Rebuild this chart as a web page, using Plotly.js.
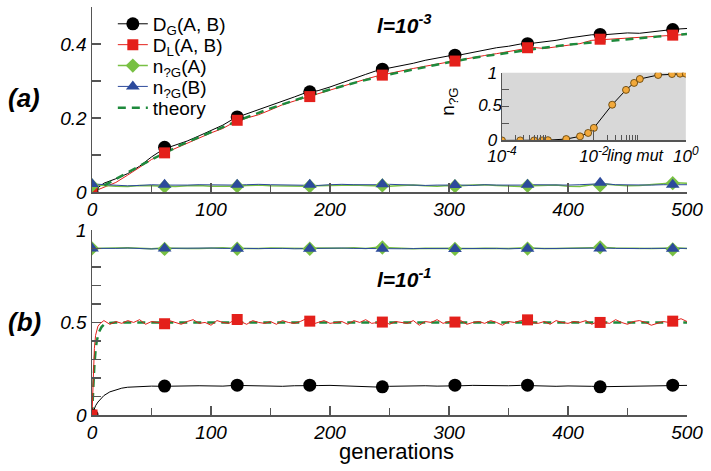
<!DOCTYPE html>
<html><head><meta charset="utf-8">
<script src="https://cdn.plot.ly/plotly-3.0.1.min.js"></script>
<style>html,body{margin:0;padding:0;background:#fff}</style>
</head><body><div id="chart" style="width:711px;height:471px"></div>
<script>
// ---------- Panel (a): l = 1e-3 ----------
const genA = [0,10,20,30,40,50,60,70,80,90,100,110,120,130,140,150,160,170,180,190,200,210,220,230,240,250,260,270,280,290,300,310,320,330,340,350,360,370,380,390,400,410,420,430,440,450,460,470,480,490,500];
const DG_a = [0,0.024,0.036,0.05,0.07,0.095,0.116,0.126,0.138,0.152,0.166,0.181,0.2,0.211,0.222,0.234,0.246,0.257,0.269,0.274,0.284,0.296,0.306,0.318,0.329,0.335,0.342,0.348,0.356,0.362,0.368,0.371,0.378,0.385,0.39,0.394,0.4,0.402,0.405,0.41,0.416,0.421,0.425,0.425,0.428,0.43,0.429,0.433,0.437,0.44,0.442];
const DL_a = [0,0.012,0.026,0.046,0.066,0.088,0.104,0.118,0.133,0.147,0.16,0.172,0.19,0.2,0.209,0.222,0.236,0.246,0.256,0.266,0.276,0.286,0.296,0.305,0.314,0.321,0.329,0.334,0.34,0.346,0.352,0.356,0.363,0.369,0.374,0.379,0.386,0.391,0.388,0.392,0.396,0.401,0.41,0.412,0.413,0.416,0.418,0.42,0.421,0.424,0.426];
const nA_a = [0.02,0.017,0.016,0.015,0.018,0.017,0.016,0.015,0.017,0.018,0.016,0.015,0.016,0.018,0.019,0.017,0.016,0.015,0.016,0.017,0.018,0.02,0.019,0.018,0.017,0.016,0.018,0.019,0.017,0.016,0.018,0.017,0.019,0.02,0.018,0.016,0.015,0.017,0.018,0.019,0.016,0.015,0.02,0.022,0.019,0.017,0.018,0.02,0.022,0.025,0.024];
const nB_a = [0.022,0.02,0.018,0.017,0.018,0.02,0.019,0.018,0.019,0.02,0.019,0.018,0.019,0.02,0.021,0.02,0.019,0.02,0.019,0.018,0.02,0.021,0.02,0.019,0.02,0.021,0.02,0.019,0.018,0.019,0.02,0.019,0.018,0.02,0.019,0.018,0.019,0.02,0.019,0.018,0.019,0.02,0.021,0.023,0.02,0.019,0.018,0.019,0.02,0.02,0.02];
const genTh_a = [0,25,50,75,100,125,150,175,200,225,250,275,300,325,350,375,400,425,450,475,500];
const theory_a = [0,0.045,0.088,0.128,0.163,0.196,0.226,0.253,0.277,0.299,0.318,0.335,0.351,0.365,0.377,0.388,0.398,0.406,0.413,0.42,0.427];
const genMark = [0,61,122,183,244,305,366,427,488];
const DG_a_m = [0,0.121,0.203,0.271,0.332,0.37,0.401,0.426,0.439];
const DL_a_m = [0,0.106,0.194,0.258,0.316,0.354,0.39,0.413,0.424];
const nA_a_m = [0.018,0.015,0.016,0.016,0.018,0.016,0.017,0.018,0.024];
const nB_a_m = [0.022,0.02,0.02,0.02,0.021,0.019,0.02,0.025,0.02];

// ---------- Panel (b): l = 1e-1 ----------
const genRed_b = [0,1,2,3,4,5,7,10,15,20,25,30,35,40,45,50,55,60,65,70,75,80,85,90,95,100,105,110,115,120,125,130,135,140,145,150,155,160,165,170,175,180,185,190,195,200,205,210,215,220,225,230,235,240,245,250,255,260,265,270,275,280,285,290,295,300,305,310,315,320,325,330,335,340,345,350,355,360,365,370,375,380,385,390,395,400,405,410,415,420,425,430,435,440,445,450,455,460,465,470,475,480,485,490,495,500];
const DL_b = [0,0.22,0.36,0.43,0.465,0.48,0.495,
 0.51,0.49,0.505,0.495,0.51,0.5,0.515,0.49,0.505,0.5,
 0.495,0.51,0.5,0.49,0.505,0.515,0.495,0.5,0.485,0.51,
 0.5,0.495,0.515,0.505,0.49,0.51,0.5,0.495,0.505,0.49,
 0.51,0.5,0.495,0.505,0.52,0.49,0.5,0.51,0.495,0.5,
 0.505,0.49,0.51,0.5,0.515,0.495,0.5,0.51,0.49,0.505,
 0.5,0.495,0.51,0.485,0.505,0.5,0.515,0.495,0.505,0.5,
 0.51,0.49,0.5,0.505,0.495,0.51,0.5,0.485,0.505,0.5,
 0.51,0.515,0.5,0.495,0.505,0.49,0.51,0.5,0.495,0.505,
 0.5,0.51,0.49,0.505,0.5,0.495,0.515,0.5,0.49,0.505,
 0.51,0.5,0.485,0.495,0.505,0.5,0.51,0.52,0.505];
const genTh_b = [0,1,2,3,4,6,8,10,15,20,500];
const theory_b = [0,0.15,0.27,0.35,0.4,0.45,0.475,0.488,0.497,0.5,0.5];
const genBlack_b = [0,1,2,3,5,7,10,15,20,25,30,40,50,60,70,80,90,100,110,120,130,140,150,160,170,180,190,200,210,220,230,240,250,260,270,280,290,300,310,320,330,340,350,360,370,380,390,400,410,420,430,440,450,460,470,480,490,500];
const DG_b = [0,0.02,0.035,0.05,0.07,0.085,0.105,0.125,0.135,0.145,
 0.15,0.155,0.156,0.155,0.157,0.156,0.158,0.157,0.156,0.16,
 0.159,0.157,0.156,0.155,0.158,0.157,0.159,0.16,0.157,0.156,
 0.154,0.151,0.155,0.157,0.156,0.158,0.156,0.155,0.158,0.16,
 0.159,0.157,0.158,0.16,0.158,0.156,0.155,0.157,0.154,0.155,
 0.153,0.154,0.156,0.157,0.156,0.158,0.159,0.16];
const nB_b = [0.9,0.898,0.9,0.902,0.899,0.897,0.9,0.901,0.899,0.9,0.902,0.9,0.898,0.9,0.899,0.901,0.9,0.898,0.9,0.899,0.9,0.902,0.9,0.899,0.901,0.9,0.898,0.899,0.9,0.901,0.9,0.899,0.9,0.902,0.9,0.898,0.9,0.901,0.899,0.9,0.901,0.899,0.9,0.902,0.9,0.898,0.899,0.9,0.901,0.9,0.9];
const nA_b = [0.9,0.899,0.902,0.904,0.9,0.898,0.902,0.903,0.9,0.899,0.901,0.903,0.899,0.898,0.9,0.902,0.901,0.899,0.9,0.902,0.9,0.901,0.903,0.9,0.906,0.904,0.899,0.898,0.901,0.9,0.899,0.902,0.9,0.901,0.899,0.9,0.902,0.903,0.9,0.899,0.901,0.904,0.906,0.905,0.902,0.9,0.897,0.899,0.901,0.903,0.9];
const DG_b_m = [0,0.156,0.161,0.161,0.152,0.161,0.161,0.152,0.161];
const DL_b_m = [0,0.493,0.516,0.507,0.502,0.502,0.514,0.5,0.507];
const nA_b_m = [0.9,0.897,0.898,0.898,0.905,0.897,0.899,0.906,0.895];
const nB_b_m = [0.9,0.9,0.898,0.898,0.898,0.897,0.898,0.899,0.898];

// ---------- Inset ----------
const lingMut = [1e-4,2.5e-4,5e-4,7.5e-4,1e-3,2.5e-3,5e-3,7.5e-3,1e-2,2.5e-2,5e-2,7.5e-2,0.1,0.25,0.5,0.75,1];
const nG_inset = [0,0,0,0,0.004,0.02,0.06,0.11,0.185,0.527,0.746,0.849,0.907,0.966,0.98,0.985,0.985];

// ---------- tick labels ----------
const xTicks = [0,100,200,300,400,500];
const xTickText = ['0','100','200','300','400','500'];
const yTicksA = [0,0.2,0.4];
const yTickTextA = ['0','0.2','0.4'];
const yTicksB = [0,0.5,1];
const yTickTextB = ['0','0.5','1'];
const insetXTicks = [1e-4,1e-2,1];
const insetXText = ['10<sup>-4</sup>','10<sup>-2</sup>','10<sup>0</sup>'];
const insetYTicks = [0,0.5,1];
const insetYText = ['0','','1'];       // middle label drawn as a text trace (below)
const insetMidTick = [0.5];
const insetMidText = ['0.5'];
const names = ['D<sub>G</sub>(A, B)','D<sub>L</sub>(A, B)','n<sub>?G</sub>(A)','n<sub>?G</sub>(B)','theory'];

const FONT = 'Liberation Sans, Arial, Helvetica, sans-serif';
const C = {black:'#000000', red:'#e4201b', green:'#78c043', blue:'#2c4a9c', theory:'#1e8a3c', axis:'#555555'};

function line(x,y,ax,color,width,dash){
  return {x:x,y:y,xaxis:ax[0],yaxis:ax[1],mode:'lines',line:{color:color,width:width,dash:dash||'solid'},showlegend:false,hoverinfo:'skip'};
}
function marks(x,y,ax,color,symbol,size){
  return {x:x,y:y,xaxis:ax[0],yaxis:ax[1],mode:'markers',marker:{color:color,symbol:symbol,size:size,line:{width:0}},showlegend:false,hoverinfo:'skip'};
}
const A = ['x','y'], B = ['x2','y2'];
const traces = [];
const legIds = ['legend','legend2','legend3','legend4','legend5'];
const legDefs = [
  {c:C.black, s:'circle', z:13, w:1},
  {c:C.red, s:'square', z:11, w:1},
  {c:C.green, s:'diamond', z:11, w:1.5},
  {c:C.blue, s:'triangle-up', z:12, w:1}
];
legDefs.forEach((d,i)=>traces.push({x:[null],y:[null],xaxis:'x',yaxis:'y',mode:'lines+markers',name:names[i],legend:legIds[i],line:{color:d.c,width:d.w},marker:{color:d.c,symbol:d.s,size:d.z}}));
traces.push({x:[null],y:[null],xaxis:'x',yaxis:'y',mode:'lines',name:names[4],legend:legIds[4],line:{color:C.theory,width:2.5,dash:'8px,6px'}});

// panel (a)
traces.push(line(genA,DG_a,A,C.black,1));
traces.push(line(genA,DL_a,A,C.red,1));
traces.push(line(genA,nA_a,A,C.green,1.5));
traces.push(line(genA,nB_a,A,C.blue,1));
traces.push(line(genTh_a,theory_a,A,C.theory,2.5,'8px,6px'));
traces.push(marks(genMark,DG_a_m,A,C.black,'circle',13));
traces.push(marks(genMark,DL_a_m,A,C.red,'square',11));
traces.push(marks(genMark,nA_a_m,A,C.green,'diamond',11));
traces.push(marks(genMark,nB_a_m,A,C.blue,'triangle-up',12));
// panel (b)
traces.push(line(genTh_b,theory_b,B,C.theory,2.5,'8px,6px'));
traces.push(line(genBlack_b,DG_b,B,C.black,1));
traces.push(line(genRed_b,DL_b,B,C.red,1));
traces.push(line(genA,nA_b,B,C.green,1.5));
traces.push(line(genA,nB_b,B,C.blue,1));
traces.push(marks(genMark,DG_b_m,B,C.black,'circle',13));
traces.push(marks(genMark,DL_b_m,B,C.red,'square',11));
traces.push(marks(genMark,nA_b_m,B,C.green,'diamond',11));
traces.push(marks(genMark,nB_b_m,B,C.blue,'triangle-up',12));
// inset
traces.push({x:lingMut,y:nG_inset,xaxis:'x3',yaxis:'y3',mode:'lines+markers',line:{color:'#000',width:1},marker:{color:'#f2a93b',size:7,line:{color:'#5a3a00',width:0.8}},showlegend:false,hoverinfo:'skip'});
// inset middle y tick label
traces.push({x:[lingMut[0]],y:insetMidTick,text:insetMidText,xaxis:'x3',yaxis:'y3',mode:'text',textposition:'middle left',cliponaxis:false,
  textfont:{family:FONT,size:17,color:'#000',style:'italic'},showlegend:false,hoverinfo:'skip'});

const tickFont = {family:FONT,size:19,color:'#000',style:'italic'};
function xAx(anchor,domain){
  return {anchor:anchor,domain:domain,range:[0,500],tickmode:'array',tickvals:xTicks,ticktext:xTickText,ticks:'inside',ticklen:9,tickwidth:1.3,tickcolor:C.axis,
    showline:true,linecolor:C.axis,linewidth:1.5,showgrid:false,zeroline:false,tickfont:tickFont,
    minor:{tickmode:'array',tickvals:[50,150,250,350,450],ticks:'inside',ticklen:7,tickwidth:1.3,tickcolor:C.axis,showgrid:false}};
}
function yAx(anchor,domain,range,tv,tt,mv){
  return {anchor:anchor,domain:domain,range:range,tickmode:'array',tickvals:tv,ticktext:tt,ticks:'inside',ticklen:9,tickwidth:1.3,tickcolor:C.axis,
    showline:true,linecolor:C.axis,linewidth:1.5,showgrid:false,zeroline:false,tickfont:tickFont,
    minor:{tickmode:'array',tickvals:mv,ticks:'inside',ticklen:9,tickwidth:1.3,tickcolor:C.axis,showgrid:false}};
}
const insetFont = {family:FONT,size:17,color:'#000',style:'italic'};
const legRowsY = [0.9585,0.9073,0.856,0.805,0.753];
const layout = {
  width:711,height:471,
  margin:{l:92,r:24,t:5,b:56},
  paper_bgcolor:'#ffffff',plot_bgcolor:'rgba(0,0,0,0)',
  font:{family:FONT,color:'#000'},
  showlegend:true,
  xaxis:xAx('y',[0,1]),
  yaxis:yAx('x',[0.5463,1],[0,0.5],yTicksA,yTickTextA,[0.1,0.3,0.5]),
  xaxis2:xAx('y2',[0,1]),
  yaxis2:yAx('x2',[0,0.4537],[0,1],yTicksB,yTickTextB,[0.1,0.2,0.3,0.4,0.6,0.7,0.8,0.9]),
  xaxis3:{anchor:'y3',domain:[0.689,0.998],type:'log',range:[-4,0],tickmode:'array',tickvals:insetXTicks,ticktext:insetXText,
    ticks:'inside',ticklen:10,tickwidth:1.2,tickcolor:C.axis,showline:true,linecolor:C.axis,linewidth:1.3,showgrid:false,zeroline:false,tickfont:insetFont,
    minor:{tickmode:'array',tickvals:[2e-4,3e-4,4e-4,5e-4,6e-4,7e-4,8e-4,9e-4,2e-2,3e-2,4e-2,5e-2,6e-2,7e-2,8e-2,9e-2],ticks:'inside',ticklen:5,tickwidth:1,tickcolor:C.axis,showgrid:false}},
  yaxis3:{anchor:'x3',domain:[0.673,0.839],range:[0,1],tickmode:'array',tickvals:insetYTicks,ticktext:insetYText,
    ticks:'inside',ticklen:7,tickwidth:1.2,tickcolor:C.axis,showline:true,linecolor:C.axis,linewidth:1.3,showgrid:false,zeroline:false,tickfont:insetFont,
    minor:{tickmode:'array',tickvals:[0.25,0.75],ticks:'inside',ticklen:7,tickwidth:1.2,tickcolor:C.axis,showgrid:false}},
  shapes:[{type:'rect',xref:'x3 domain',yref:'y3 domain',x0:0,x1:1,y0:0,y1:1,fillcolor:'#d8d8d8',line:{width:0},layer:'below'}],
  annotations:[
    {text:'<b><i>(a)</i></b>',xref:'paper',yref:'paper',x:-0.114,y:0.778,showarrow:false,font:{family:FONT,size:26,color:'#000'},xanchor:'center',yanchor:'middle'},
    {text:'<b><i>(b)</i></b>',xref:'paper',yref:'paper',x:-0.114,y:0.227,showarrow:false,font:{family:FONT,size:26,color:'#000'},xanchor:'center',yanchor:'middle'},
    {text:'<b><i>l=10<sup>-3</sup></i></b>',xref:'paper',yref:'paper',x:0.526,y:0.958,showarrow:false,font:{family:FONT,size:21,color:'#000'},xanchor:'center',yanchor:'middle'},
    {text:'<b><i>l=10<sup>-1</sup></i></b>',xref:'paper',yref:'paper',x:0.525,y:0.335,showarrow:false,font:{family:FONT,size:21,color:'#000'},xanchor:'center',yanchor:'middle'},
    {text:'generations',xref:'paper',yref:'paper',x:0.511,y:-0.09,showarrow:false,font:{family:FONT,size:22,color:'#000'},xanchor:'center',yanchor:'middle'},
    {text:'<i>ling mut</i>',xref:'paper',yref:'paper',x:0.914,y:0.6366,showarrow:false,font:{family:FONT,size:16,color:'#000'},xanchor:'center',yanchor:'middle'},
    {text:'n<sub>?G</sub>',xref:'paper',yref:'paper',x:0.600,y:0.768,showarrow:false,textangle:-90,font:{family:FONT,size:19,color:'#000'},xanchor:'center',yanchor:'middle'}
  ]
};
legIds.forEach((id,i)=>{
  layout[id] = {x:0.035,y:legRowsY[i],xanchor:'left',yanchor:'middle',bgcolor:'rgba(0,0,0,0)',borderwidth:0,
    font:{family:FONT,size:19,color:'#000'},itemwidth:30};
});
Plotly.newPlot('chart',traces,layout,{displayModeBar:false,staticPlot:true});
</script></body></html>
